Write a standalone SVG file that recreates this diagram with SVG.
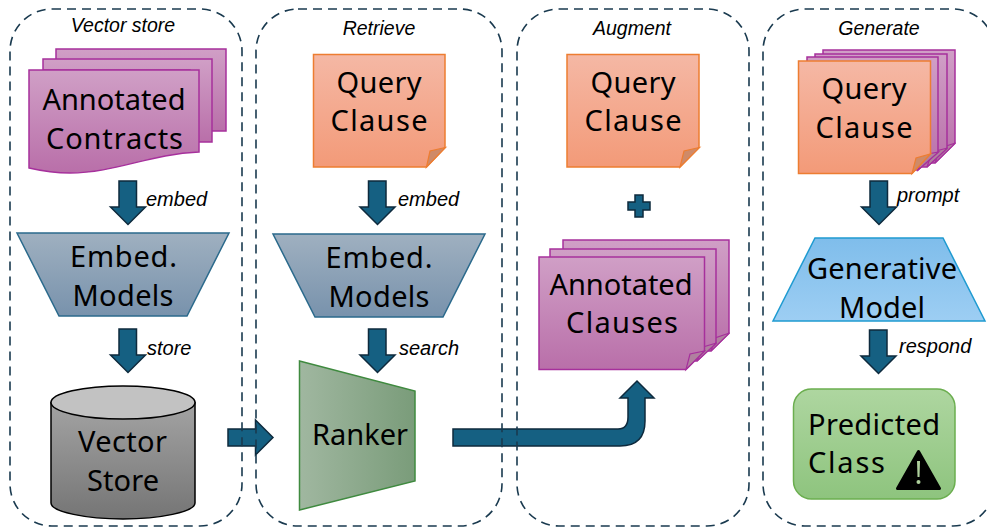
<svg xmlns="http://www.w3.org/2000/svg" xmlns:xlink="http://www.w3.org/1999/xlink" width="987" height="527" viewBox="0 0 987 527">
<style>
text{font-family:"Noto Sans","Open Sans","Liberation Sans",sans-serif;fill:#000}
.t{font-size:29px;text-anchor:middle}
.l{font-size:20px;font-style:italic;font-family:"Liberation Sans",Arial,sans-serif}
.c{font-size:19.500px;font-style:italic;text-anchor:middle;font-family:"Liberation Sans",Arial,sans-serif}
.box{fill:none;stroke:#1a3a4f;stroke-width:1.6;stroke-dasharray:9 6}
.a{fill:#156082;stroke:#0e2a3d;stroke-width:1.5}
.p{fill:url(#pur);stroke:#a6309c;stroke-width:1.5}
.o{fill:url(#ora);stroke:#ed7d31;stroke-width:1.5}
.pf{fill:#b0809f;stroke:#a6309c;stroke-width:1.2}
.of{fill:#cf8a68;stroke:#ed7d31;stroke-width:1.2}
.e{fill:url(#emb);stroke:#2b6a8c;stroke-width:1.5}
</style>
<defs>
<linearGradient id="pur" x1="0" y1="0" x2="0" y2="1"><stop offset="0" stop-color="#d09fc6"/><stop offset="1" stop-color="#b96fa9"/></linearGradient>
<linearGradient id="ora" x1="0" y1="0" x2="0" y2="1"><stop offset="0" stop-color="#f5b8a5"/><stop offset="1" stop-color="#f39a78"/></linearGradient>
<linearGradient id="emb" x1="0" y1="0" x2="0" y2="1"><stop offset="0" stop-color="#9fb0c0"/><stop offset="1" stop-color="#7892ac"/></linearGradient>
<linearGradient id="cyl" x1="0" y1="0" x2="0" y2="1"><stop offset="0" stop-color="#a3a3a3"/><stop offset="1" stop-color="#757575"/></linearGradient>
<linearGradient id="rank" x1="0" y1="0" x2="1" y2="0"><stop offset="0" stop-color="#a0b7a0"/><stop offset="1" stop-color="#7a9c7a"/></linearGradient>
<linearGradient id="gen" x1="0" y1="0" x2="0" y2="1"><stop offset="0" stop-color="#7fbdeb"/><stop offset="1" stop-color="#9dcef3"/></linearGradient>
<linearGradient id="grn" x1="0" y1="0" x2="0" y2="1"><stop offset="0" stop-color="#aed6a0"/><stop offset="1" stop-color="#8ec47e"/></linearGradient>
<path id="down" class="a" d="M-9 0H8.500V26H17.500L0 43.500L-17.500 26H-9Z"/>
</defs>

<g id="connectors">
<use xlink:href="#down" href="#down" x="128" y="181"/>
<use xlink:href="#down" href="#down" x="128" y="329"/>
<use xlink:href="#down" href="#down" x="377.500" y="181"/>
<use xlink:href="#down" href="#down" x="377.500" y="329"/>
<use xlink:href="#down" href="#down" x="879" y="181"/>
<use xlink:href="#down" href="#down" x="878.500" y="330"/>
<path id="arrow-store-rank" class="a" d="M228 429H255.500V420L273 437.500L255.500 455V446H228Z"/>
<path id="arrow-rank-aug" class="a" d="M453 429H618Q628 429 628 417V398H620L637 381L654 398H645V421Q645 446 620 446H453Z"/>
<path id="plus" class="a" d="M635 195H643V202H650V210H643V217H635V210H628V202H635Z"/>
<text class="l" x="146" y="206">embed</text>
<text class="l" x="398" y="206">embed</text>
<text class="l" x="147" y="355">store</text>
<text class="l" x="399" y="355">search</text>
<text class="l" x="897" y="202">prompt</text>
<text class="l" x="899" y="353">respond</text>
</g>

<g id="stages">
<rect id="stage-vector" class="box" x="10" y="9" width="232" height="517" rx="42"/>
<rect id="stage-retrieve" class="box" x="256" y="9" width="246" height="517" rx="42"/>
<rect id="stage-augment" class="box" x="517" y="9" width="232" height="517" rx="42"/>
<rect id="stage-generate" class="box" x="763" y="9" width="232" height="517" rx="42"/>
<text class="c" x="123" y="32">Vector store</text>
<text class="c" x="379" y="35">Retrieve</text>
<text class="c" x="632" y="35">Augment</text>
<text class="c" x="879" y="35">Generate</text>
</g>

<g id="annotated-contracts">
<path class="p" d="M56 49H226V131H200V60H56Z"/>
<path class="p" d="M43 59H212V142H190V70H43Z"/>
<path class="p" d="M29 70H199V152C150 154 115 173 70 173C55 173 42 171 29 168Z"/>
<text class="t" x="114" y="110" textLength="143">Annotated</text>
<text class="t" x="114.500" y="149" textLength="137">Contracts</text>
</g>
<g id="embed-1">
<path class="e" d="M17 233H229L187 316H59Z"/>
<text class="t" x="123.500" y="267" textLength="107">Embed.</text>
<text class="t" x="123" y="306" textLength="101">Models</text>
</g>
<g id="vector-store">
<path d="M51 402.500V503C51 512 87 519 123 519C159 519 195 512 195 503V402.500Z" fill="url(#cyl)" stroke="#000" stroke-width="1.500"/>
<ellipse cx="123" cy="402.500" rx="72" ry="16.500" fill="#c2c2c2" stroke="#000" stroke-width="1.500"/>
<text class="t" x="122.500" y="452" textLength="89">Vector</text>
<text class="t" x="123" y="491" textLength="72">Store</text>
</g>
<g id="query-retrieve">
<path class="o" d="M313.500 54.500H445V147.500L426.500 167H313.500Z"/>
<path class="of" d="M426.500 167L430 151L445.500 147.500Z"/>
<text class="t" x="379" y="93" textLength="85">Query</text>
<text class="t" x="379" y="131" textLength="97">Clause</text>
</g>
<g id="embed-2">
<path class="e" d="M273 234H485L443 317H315Z"/>
<text class="t" x="379" y="268" textLength="107">Embed.</text>
<text class="t" x="379" y="307" textLength="101">Models</text>
</g>
<g id="ranker">
<path d="M299.500 361L415 391V481L299.500 510Z" fill="url(#rank)" stroke="#3f8a3f" stroke-width="1.500"/>
<text class="t" x="360" y="445" textLength="96">Ranker</text>
</g>
<g id="query-augment">
<path class="o" d="M567 54.500H699V147.500L680 167H567Z"/>
<path class="of" d="M680 167L684 151L699.500 147.500Z"/>
<text class="t" x="633" y="93" textLength="85">Query</text>
<text class="t" x="633" y="131" textLength="97">Clause</text>
</g>
<g id="annotated-clauses">
<path class="p" d="M563 240H729V333L711 351H563Z"/>
<path class="pf" d="M711 351L715 338L729.500 333Z"/>
<path class="p" d="M550 249H716V343L697 361H550Z"/>
<path class="pf" d="M697 361L703 347L716.500 343Z"/>
<path class="p" d="M539 257H704.500V351L686 369.500H539Z"/>
<path class="pf" d="M686 369.500L690 354L704.500 351Z"/>
<text class="t" x="621" y="295" textLength="143">Annotated</text>
<text class="t" x="622" y="333" textLength="112">Clauses</text>
</g>
<g id="query-generate">
<path class="p" d="M823 50H955V143L935 163H823Z"/>
<path class="pf" d="M935 163L940 148L955.500 143Z"/>
<path class="p" d="M815 54H947V148L927 167H815Z"/>
<path class="pf" d="M927 167L932 152L947.500 148Z"/>
<path class="p" d="M807 57H938V152L918 170H807Z"/>
<path class="pf" d="M918 170L923 155L938.500 152Z"/>
<path class="o" d="M798.500 61H930.500V154L912 173.500H798.500Z"/>
<path class="of" d="M912 173.500L916 158L930.500 154Z"/>
<text class="t" x="864" y="99" textLength="85">Query</text>
<text class="t" x="864" y="137.500" textLength="97">Clause</text>
</g>
<g id="generative-model">
<path d="M815 238H943L985 321H773Z" fill="url(#gen)" stroke="#1f9bd1" stroke-width="1.500"/>
<text class="t" x="882" y="279" textLength="150">Generative</text>
<text class="t" x="882" y="318" textLength="86">Model</text>
</g>
<g id="predicted-class">
<rect x="793.500" y="389" width="161.500" height="110" rx="18" fill="url(#grn)" stroke="#6bae4f" stroke-width="1.500"/>
<text class="t" x="874" y="435" textLength="132">Predicted</text>
<text class="t" x="846.500" y="473" textLength="77">Class</text>
<path d="M918.500 451.500L939.500 488.500H897.500Z" fill="#000" stroke="#000" stroke-width="3" stroke-linejoin="round"/>
<path d="M917 461H920L919.500 477H917.500Z" fill="#aed09c"/>
<circle cx="918.500" cy="482" r="2" fill="#aed09c"/>
</g>
</svg>
